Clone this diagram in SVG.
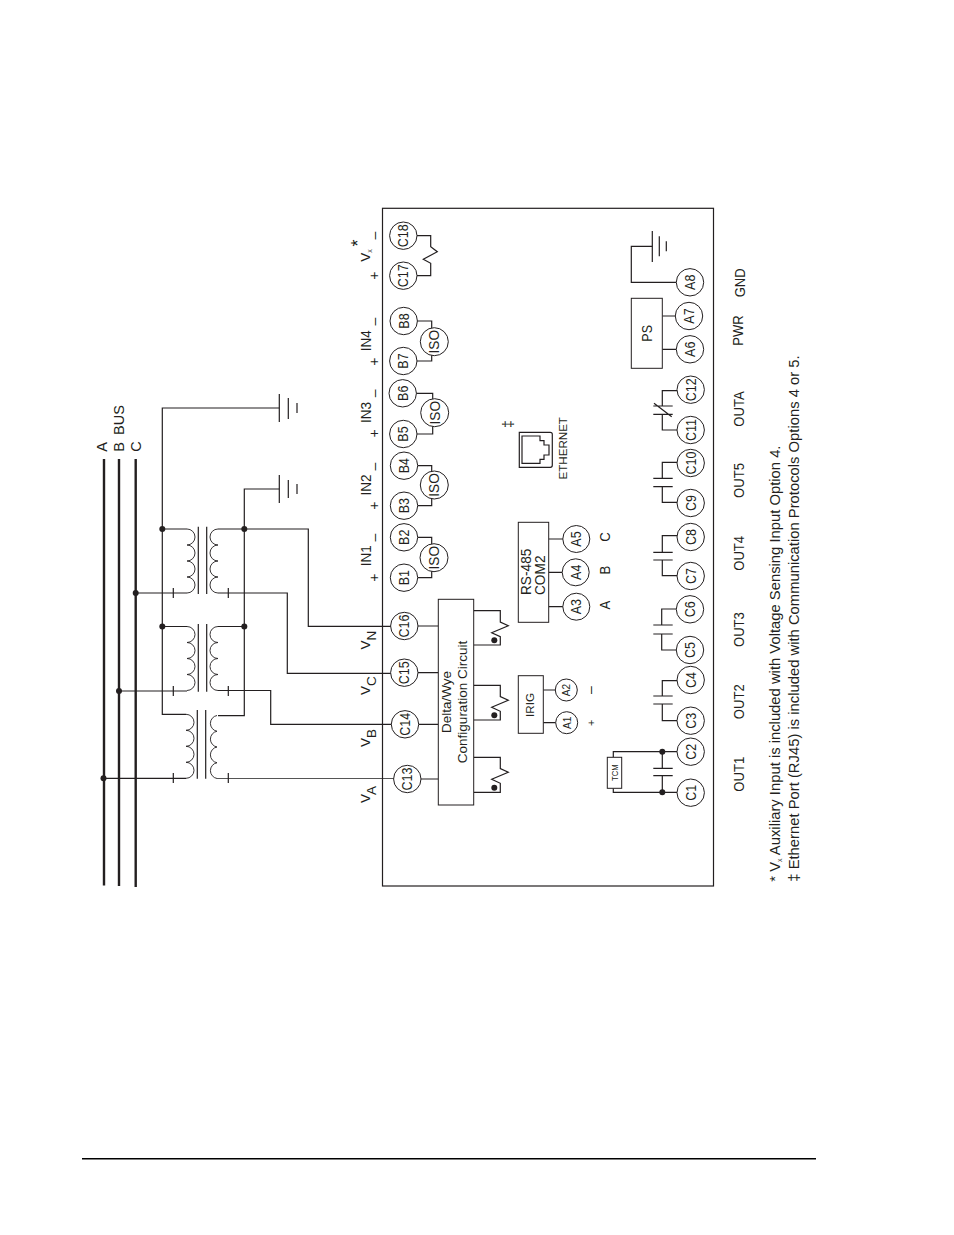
<svg xmlns="http://www.w3.org/2000/svg" width="954" height="1235" viewBox="0 0 954 1235">
<style>
text{font-family:"Liberation Sans",Arial,sans-serif;font-size:14.7px;fill:#231f20}
.m{text-anchor:middle}
.s{font-size:11.5px}
.e{font-size:11.6px}
.p{font-size:14px}
.l,.n,.c,.b{fill:none;stroke:#231f20}
.l{stroke-width:1.2}
.n{fill:#fff;stroke-width:1}
.c{stroke-width:.9}
.b{stroke-width:2.4}
.d{fill:#231f20}
</style>
<rect width="954" height="1235" fill="#fff"/>
<g id="connectors">
<path class="b" d="M104 459V885.500M119 459V886M135.700 459V887"/>
<path class="l" d="M135.700 593H187M119 691H187M104 778.300H186"/>
<path class="l" d="M279.300 408H162.300V714.300H186M162.300 529H187M162.300 626.500H187"/>
<path class="l" d="M279.300 489H244.300V715.700H218M218 529H308.300V626.300H391M218 626.500H244.300"/>
<path class="l" d="M218 593H287.300V673.300H391M218 690.500H270.700V724.300H392"/>
<path d="M217 778.500H394" fill="none" stroke="#555" stroke-width="1.2"/>
<path class="l" d="M173.300 588V598M228.300 588V598M173.300 686V696M228.300 686V696M173.300 773V783M228.300 773V783"/>
<path class="c" d="M187 529a8 8 0 0 1 0 16a8 8 0 0 1 0 16a8 8 0 0 1 0 16a8 8 0 0 1 0 16M218 529a8 8 0 0 0 0 16a8 8 0 0 0 0 16a8 8 0 0 0 0 16a8 8 0 0 0 0 16"/>
<path class="c" d="M187 626.500a8 8 0 0 1 0 16a8 8 0 0 1 0 16a8 8 0 0 1 0 16a8 8 0 0 1 0 16M218 626.500a8 8 0 0 0 0 16a8 8 0 0 0 0 16a8 8 0 0 0 0 16a8 8 0 0 0 0 16"/>
<path class="c" d="M186 714.300a8 8 0 0 1 0 16a8 8 0 0 1 0 16a8 8 0 0 1 0 16a8 8 0 0 1 0 16M217 715.500a8 8 0 0 0 0 15.750a8 8 0 0 0 0 15.750a8 8 0 0 0 0 15.750a8 8 0 0 0 0 15.750"/>
<path class="l" d="M198.300 526.700V594M206.700 526.700V594M198.300 624V691.700M206.700 624V691.700M197.300 710V778.700M205.700 710V778.700"/>
<path class="l" d="M279.300 394V422M288.300 398V419M297 403V413M279.300 475V503M288.300 480V498M297 484V494M652.300 231V262M659.300 236.300V256.300M666.300 241.300V251.300"/>
<path class="l" d="M676 282.300H631.300V246.300H652.300"/>
<path class="l" d="M418 626H438.300M418 672.700H438.300M419 724.300H438.300M421 779H438.300"/>
<path class="l" d="M473.700 610.700H500.300V622L508.300 625.700L491.700 632.700L500.300 636.700V645H473.700"/>
<path class="l" d="M473.700 685.300H500.300V696.600L508.300 700.300L491.700 707.300L500.300 711.300V720H473.700"/>
<path class="l" d="M473.700 757.300H500.300V768.600L508.300 772.300L491.700 779.300L500.300 783.300V792.300H473.700"/>
<path class="l" d="M417 235.700H430.700V246.700L437.300 251.700L423.300 259.300L430.700 263.300V275.700H417"/>
<path class="l" d="M417 321H431.700V329M417 361H431.700V355M416 393.300H432.700V400M417 434H432.700V426M418 465.700H431.700V472M418 505.700H431.700V498M418 537.300H431.700V544M418 577.700H431.700V571"/>
<path class="l" d="M548.700 539H563M548.700 572.300H562M548.700 606.700H563M543.300 690H555.300M543.300 722.700H555.700"/>
<path class="l" d="M677 792.300H662.300V775.700M653.300 775.700H672.700M653.300 768.300H672.700M662.300 768.300V751.700H677"/>
<path class="l" d="M613.300 757.300V751.700H662.300M613.300 788.300V792.300H662.300"/>
<path class="l" d="M677 720.700H662.300V704M653.300 704H672.700M653.300 696H672.700M662.300 696V680.700H677"/>
<path class="l" d="M676 650H661.700V634M653.300 634H672.700M653.300 625H672.700M661.700 625V609H676"/>
<path class="l" d="M677 575.700H662.300V560M653.300 560H672.700M653.300 552.300H672.700M662.300 552.300V535.700H677"/>
<path class="l" d="M677 502.300H662.300V486.700M653.300 486.700H672.700M653.300 478.300H672.700M662.300 478.300V462.300H677"/>
<path class="l" d="M677 430H662.300V414.300M653.300 414.300H672.700M653.300 406H672.700M662.300 406V390.700H677M654 403.300L671.700 416.700"/>
<path class="l" d="M662.300 316H675.300M662.300 349.300H676"/>
<g class="d">
<circle cx="162.300" cy="529" r="3"/><circle cx="244.300" cy="529" r="3"/><circle cx="135.700" cy="593" r="3"/><circle cx="162.300" cy="626.500" r="3"/><circle cx="244.300" cy="626.500" r="3"/><circle cx="119" cy="691" r="3"/><circle cx="103.500" cy="778.300" r="3"/>
<circle cx="494.300" cy="640.300" r="3"/><circle cx="494.300" cy="715.300" r="3"/><circle cx="494.300" cy="787.700" r="3"/>
<circle cx="662.300" cy="751.700" r="3"/><circle cx="662.300" cy="792.300" r="3"/>
</g>
</g>
<g id="enclosure"><rect class="l" x="382.500" y="208.300" width="331" height="677.700"/></g>
<g id="bus-labels">
<text transform="translate(107.300 451.700) rotate(-90)" style="font-size:14.500px">A</text>
<text transform="translate(124 451.700) rotate(-90)" style="font-size:14.500px;word-spacing:3px">B BUS</text>
<text transform="translate(140.700 451.700) rotate(-90)" style="font-size:14.500px">C</text>
</g>
<g id="delta-wye">
<rect class="n" x="438.300" y="599.300" width="35.400" height="205.700"/>
<text class="m" transform="translate(450.700 702) rotate(-90)" style="font-size:13.500px">Delta/Wye</text>
<text class="m" transform="translate(467.300 702) rotate(-90)" style="font-size:13.500px">Configuration Circuit</text>
</g>
<g id="rs485">
<rect class="n" x="518.300" y="522.300" width="30.400" height="100"/>
<text transform="translate(531 595) rotate(-90) scale(.93 1)">RS-485</text>
<text transform="translate(545 595) rotate(-90) scale(.93 1)">COM2</text>
</g>
<g id="irig"><rect class="n" x="518.300" y="675.700" width="25" height="57.600"/><text class="m e" transform="translate(534.300 705) rotate(-90)">IRIG</text></g>
<g id="ps"><rect class="n" x="631.300" y="298.300" width="31" height="70"/><text class="m" transform="translate(652.300 333.300) rotate(-90) scale(.85 1)">PS</text></g>
<g id="tcm"><rect class="n" x="607.300" y="757.300" width="14.400" height="31"/><text class="m" transform="translate(617.700 772.700) rotate(-90) scale(.8 1)" style="font-size:9.500px">TCM</text></g>
<g id="ethernet">
<path class="l" d="M519.300 432.300H550.300Q552.300 432.300 552.300 434.300V465.300Q552.300 467.300 550.300 467.300H519.300Z"/>
<path class="l" d="M522 436H540V440.700H544V445H549V455H544V459.300H540V463.300H522Z"/>
<text class="m e" transform="translate(566.700 448.300) rotate(-90)">ETHERNET</text>
<text class="m p" transform="translate(513 424) rotate(-90)">‡</text>
</g>
<g id="terminals">
<g id="C18"><circle class="n" cx="403.300" cy="235.700" r="13.700"/><text class="m" transform="translate(408.300 235.700) rotate(-90) scale(.85 1)">C18</text></g>
<g id="C17"><circle class="n" cx="403.300" cy="275.700" r="13.700"/><text class="m" transform="translate(408.300 275.700) rotate(-90) scale(.85 1)">C17</text></g>
<g id="B8"><circle class="n" cx="403.700" cy="321" r="13.700"/><text class="m" transform="translate(408.700 321) rotate(-90) scale(.85 1)">B8</text></g>
<g id="B7"><circle class="n" cx="403.300" cy="361" r="13.700"/><text class="m" transform="translate(408.300 361) rotate(-90) scale(.85 1)">B7</text></g>
<g id="B6"><circle class="n" cx="402.700" cy="393.300" r="13.700"/><text class="m" transform="translate(407.700 393.300) rotate(-90) scale(.85 1)">B6</text></g>
<g id="B5"><circle class="n" cx="403.300" cy="434" r="13.700"/><text class="m" transform="translate(408.300 434) rotate(-90) scale(.85 1)">B5</text></g>
<g id="B4"><circle class="n" cx="404" cy="465.700" r="13.700"/><text class="m" transform="translate(409 465.700) rotate(-90) scale(.85 1)">B4</text></g>
<g id="B3"><circle class="n" cx="404" cy="505.700" r="13.700"/><text class="m" transform="translate(409 505.700) rotate(-90) scale(.85 1)">B3</text></g>
<g id="B2"><circle class="n" cx="404" cy="537.300" r="13.700"/><text class="m" transform="translate(409 537.300) rotate(-90) scale(.85 1)">B2</text></g>
<g id="B1"><circle class="n" cx="404" cy="577.700" r="13.700"/><text class="m" transform="translate(409 577.700) rotate(-90) scale(.85 1)">B1</text></g>
<g id="C16"><circle class="n" cx="404.300" cy="626" r="13.700"/><text class="m" transform="translate(409.300 626) rotate(-90) scale(.85 1)">C16</text></g>
<g id="C15"><circle class="n" cx="404.300" cy="672.700" r="13.700"/><text class="m" transform="translate(409.300 672.700) rotate(-90) scale(.85 1)">C15</text></g>
<g id="C14"><circle class="n" cx="405" cy="724.300" r="13.700"/><text class="m" transform="translate(410 724.300) rotate(-90) scale(.85 1)">C14</text></g>
<g id="C13"><circle class="n" cx="407.300" cy="779" r="13.700"/><text class="m" transform="translate(412.300 779) rotate(-90) scale(.85 1)">C13</text></g>
<g id="ISO4"><circle class="n" cx="434.300" cy="341.700" r="14"/><text class="m" transform="translate(439.300 341.700) rotate(-90) scale(.93 1)">ISO</text></g>
<g id="ISO3"><circle class="n" cx="434.700" cy="412.700" r="14"/><text class="m" transform="translate(439.700 412.700) rotate(-90) scale(.93 1)">ISO</text></g>
<g id="ISO2"><circle class="n" cx="434.300" cy="485" r="14"/><text class="m" transform="translate(439.300 485) rotate(-90) scale(.93 1)">ISO</text></g>
<g id="ISO1"><circle class="n" cx="434" cy="557.700" r="14"/><text class="m" transform="translate(439 557.700) rotate(-90) scale(.93 1)">ISO</text></g>
<g id="A5"><circle class="n" cx="576.300" cy="539" r="13.500"/><text class="m" transform="translate(581.300 539) rotate(-90) scale(.85 1)">A5</text></g>
<g id="A4"><circle class="n" cx="575.700" cy="572.300" r="13.500"/><text class="m" transform="translate(580.700 572.300) rotate(-90) scale(.85 1)">A4</text></g>
<g id="A3"><circle class="n" cx="576.300" cy="606.700" r="13.500"/><text class="m" transform="translate(581.300 606.700) rotate(-90) scale(.85 1)">A3</text></g>
<g id="A2"><circle class="n" cx="566.300" cy="690" r="11"/><text class="m s" transform="translate(570.300 690) rotate(-90) scale(.88 1)">A2</text></g>
<g id="A1"><circle class="n" cx="566.700" cy="722.700" r="11"/><text class="m s" transform="translate(570.700 722.700) rotate(-90) scale(.88 1)">A1</text></g>
<g id="A8"><circle class="n" cx="690" cy="282.300" r="13.700"/><text class="m" transform="translate(695 282.300) rotate(-90) scale(.85 1)">A8</text></g>
<g id="A7"><circle class="n" cx="689" cy="316" r="13.700"/><text class="m" transform="translate(694 316) rotate(-90) scale(.85 1)">A7</text></g>
<g id="A6"><circle class="n" cx="690" cy="349.300" r="13.700"/><text class="m" transform="translate(695 349.300) rotate(-90) scale(.85 1)">A6</text></g>
<g id="C12"><circle class="n" cx="690.700" cy="389.700" r="13.700"/><text class="m" transform="translate(695.700 389.700) rotate(-90) scale(.85 1)">C12</text></g>
<g id="C11"><circle class="n" cx="690.700" cy="430" r="13.700"/><text class="m" transform="translate(695.700 430) rotate(-90) scale(.85 1)">C11</text></g>
<g id="C10"><circle class="n" cx="690.700" cy="463" r="13.700"/><text class="m" transform="translate(695.700 463) rotate(-90) scale(.85 1)">C10</text></g>
<g id="C9"><circle class="n" cx="690.700" cy="503" r="13.700"/><text class="m" transform="translate(695.700 503) rotate(-90) scale(.85 1)">C9</text></g>
<g id="C8"><circle class="n" cx="690.700" cy="537" r="13.700"/><text class="m" transform="translate(695.700 537) rotate(-90) scale(.85 1)">C8</text></g>
<g id="C7"><circle class="n" cx="690.700" cy="576" r="13.700"/><text class="m" transform="translate(695.700 576) rotate(-90) scale(.85 1)">C7</text></g>
<g id="C6"><circle class="n" cx="690" cy="609.300" r="13.700"/><text class="m" transform="translate(695 609.300) rotate(-90) scale(.85 1)">C6</text></g>
<g id="C5"><circle class="n" cx="690" cy="650" r="13.700"/><text class="m" transform="translate(695 650) rotate(-90) scale(.85 1)">C5</text></g>
<g id="C4"><circle class="n" cx="690.700" cy="680" r="13.700"/><text class="m" transform="translate(695.700 680) rotate(-90) scale(.85 1)">C4</text></g>
<g id="C3"><circle class="n" cx="690.700" cy="720.700" r="13.700"/><text class="m" transform="translate(695.700 720.700) rotate(-90) scale(.85 1)">C3</text></g>
<g id="C2"><circle class="n" cx="690.700" cy="751.700" r="13.700"/><text class="m" transform="translate(695.700 751.700) rotate(-90) scale(.85 1)">C2</text></g>
<g id="C1"><circle class="n" cx="690.700" cy="792.700" r="13.700"/><text class="m" transform="translate(695.700 792.700) rotate(-90) scale(.85 1)">C1</text></g>
</g>
<g id="labels">
<text class="m" transform="translate(371 555.700) rotate(-90) scale(.92 1)">IN1</text>
<text class="m" transform="translate(371 485) rotate(-90) scale(.92 1)">IN2</text>
<text class="m" transform="translate(371 412.500) rotate(-90) scale(.92 1)">IN3</text>
<text class="m" transform="translate(371 340.700) rotate(-90) scale(.92 1)">IN4</text>
<text class="m p" transform="translate(379 577.700) rotate(-90)">+</text>
<text class="m p" transform="translate(379 505.700) rotate(-90)">+</text>
<text class="m p" transform="translate(379 433.300) rotate(-90)">+</text>
<text class="m p" transform="translate(379 361.700) rotate(-90)">+</text>
<text class="m p" transform="translate(379 275.700) rotate(-90)">+</text>
<text class="m p" transform="translate(379 537.700) rotate(-90)">–</text>
<text class="m p" transform="translate(379 466.700) rotate(-90)">–</text>
<text class="m p" transform="translate(379 393.300) rotate(-90)">–</text>
<text class="m p" transform="translate(379 321.700) rotate(-90)">–</text>
<text class="m p" transform="translate(379 235.700) rotate(-90)">–</text>
<text transform="translate(370 649.500) rotate(-90)" style="font-size:13.500px">V<tspan dy="6">N</tspan></text>
<text transform="translate(370 695) rotate(-90)" style="font-size:13.500px">V<tspan dy="6">C</tspan></text>
<text transform="translate(370 747) rotate(-90)" style="font-size:13.500px">V<tspan dy="6">B</tspan></text>
<text transform="translate(370 803) rotate(-90)" style="font-size:13.500px">V<tspan dy="6">A</tspan></text>
<text transform="translate(370 261.700) rotate(-90)" style="font-size:13.500px">V<tspan dy="2" style="font-size:7px">x</tspan></text>
<text class="m" transform="translate(363.500 243) rotate(-90)" style="font-size:18px">*</text>
<text class="m" transform="translate(610 537) rotate(-90) scale(.9 1)">C</text>
<text class="m" transform="translate(610 570) rotate(-90) scale(.9 1)">B</text>
<text class="m" transform="translate(610 605) rotate(-90) scale(.9 1)">A</text>
<text class="m p" transform="translate(595 690) rotate(-90)">–</text>
<text class="m" transform="translate(594.500 722.700) rotate(-90)" style="font-size:11px">+</text>
<text class="m" transform="translate(744 774.200) rotate(-90) scale(.89 1)">OUT1</text>
<text class="m" transform="translate(744 701.700) rotate(-90) scale(.89 1)">OUT2</text>
<text class="m" transform="translate(744 629.600) rotate(-90) scale(.89 1)">OUT3</text>
<text class="m" transform="translate(744 553.300) rotate(-90) scale(.89 1)">OUT4</text>
<text class="m" transform="translate(744 480.500) rotate(-90) scale(.89 1)">OUT5</text>
<text class="m" transform="translate(744 409) rotate(-90) scale(.89 1)">OUTA</text>
<text class="m" transform="translate(743 330.500) rotate(-90) scale(.89 1)">PWR</text>
<text class="m" transform="translate(745 282.800) rotate(-90) scale(.89 1)">GND</text>
<text transform="translate(780 881.700) rotate(-90)" style="font-size:14.800px">* V<tspan dy="2" style="font-size:7px">x</tspan><tspan dy="-2"> Auxiliary Input is included with Voltage Sensing Input Option 4.</tspan></text>
<text transform="translate(799.300 881.700) rotate(-90)" style="font-size:14.800px">‡ Ethernet Port (RJ45) is included with Communication Protocols Options 4 or 5.</text>
</g>
<path id="footer-rule" d="M82 1158.800H816" fill="none" stroke="#000" stroke-width="1.400"/>
</svg>
